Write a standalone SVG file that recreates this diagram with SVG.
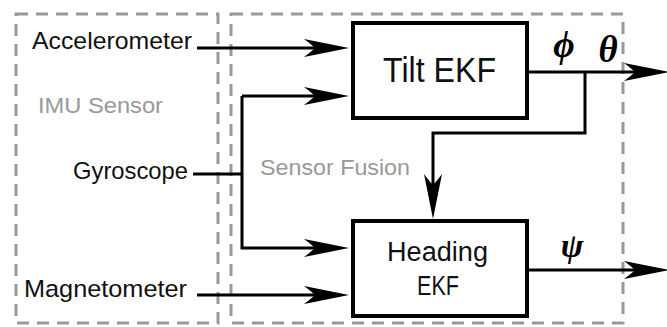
<svg xmlns="http://www.w3.org/2000/svg" width="667" height="327" viewBox="0 0 667 327">
<style>
.region{fill:none;stroke:#999;stroke-width:3;stroke-dasharray:12 8}
.box{fill:#fff;stroke:#000;stroke-width:4}
.lbl{font-family:"Liberation Sans",Arial,sans-serif;fill:#111}
.grey{font-family:"Liberation Sans",Arial,sans-serif;fill:#999;font-size:22px}
.wire{fill:none;stroke:#000;stroke-width:3}
.math{font-family:"Liberation Serif","Times New Roman",serif;font-style:italic;font-weight:bold;fill:#000}
</style>
<defs>
<marker id="ah" markerUnits="userSpaceOnUse" markerWidth="60" markerHeight="24" viewBox="-30 -12 60 24" refX="0" refY="0" orient="auto" overflow="visible">
<path d="M20,0 L-25,-9 Q-17,-3 -14,0 Q-17,3 -25,9 Z" fill="#000"/>
</marker>
</defs>
<rect fill="#fff" width="667" height="327"/>
<g id="imu-region">
<rect class="region" x="16" y="14" width="202" height="309"/>
<text class="grey" x="38" y="113" textLength="125" lengthAdjust="spacingAndGlyphs">IMU Sensor</text>
</g>
<g id="fusion-region">
<rect class="region" x="231" y="14" width="392" height="309"/>
<text class="grey" x="260" y="175" textLength="150" lengthAdjust="spacingAndGlyphs">Sensor Fusion</text>
</g>
<g id="connectors">
<path class="wire" d="M197,48 H329" marker-end="url(#ah)"/>
<path class="wire" d="M193,174 H242"/>
<path class="wire" d="M242,96 V248 H329" marker-end="url(#ah)"/>
<path class="wire" d="M242,96 H329" marker-end="url(#ah)"/>
<path class="wire" d="M197,295 H329" marker-end="url(#ah)"/>
<path class="wire" d="M527,72 H649" marker-end="url(#ah)"/>
<path class="wire" d="M585,72 V133 H433 V199" marker-end="url(#ah)"/>
<path class="wire" d="M527,270 H649" marker-end="url(#ah)"/>
</g>
<g id="accelerometer"><text class="lbl" x="32" y="49" font-size="24.5" textLength="160" lengthAdjust="spacingAndGlyphs">Accelerometer</text></g>
<g id="gyroscope"><text class="lbl" x="73" y="179" font-size="24.5" textLength="115" lengthAdjust="spacingAndGlyphs">Gyroscope</text></g>
<g id="magnetometer"><text class="lbl" x="24" y="297" font-size="24.5" textLength="163" lengthAdjust="spacingAndGlyphs">Magnetometer</text></g>
<g id="tilt-ekf">
<rect class="box" x="353" y="23" width="174" height="95"/>
<text class="lbl" x="383" y="82" font-size="35" textLength="113" lengthAdjust="spacingAndGlyphs">Tilt EKF</text>
</g>
<g id="heading-ekf">
<rect class="box" x="353" y="221" width="174" height="95"/>
<text class="lbl" x="387" y="261" font-size="27" textLength="101" lengthAdjust="spacingAndGlyphs">Heading</text>
<text class="lbl" x="417" y="295" font-size="27" textLength="42" lengthAdjust="spacingAndGlyphs">EKF</text>
</g>
<g id="outputs">
<text class="math" x="564" y="57" font-size="37" text-anchor="middle">ϕ</text>
<text class="math" x="608" y="62" font-size="37" text-anchor="middle">θ</text>
<text class="math" x="572" y="257" font-size="34" text-anchor="middle">ψ</text>
</g>
</svg>
